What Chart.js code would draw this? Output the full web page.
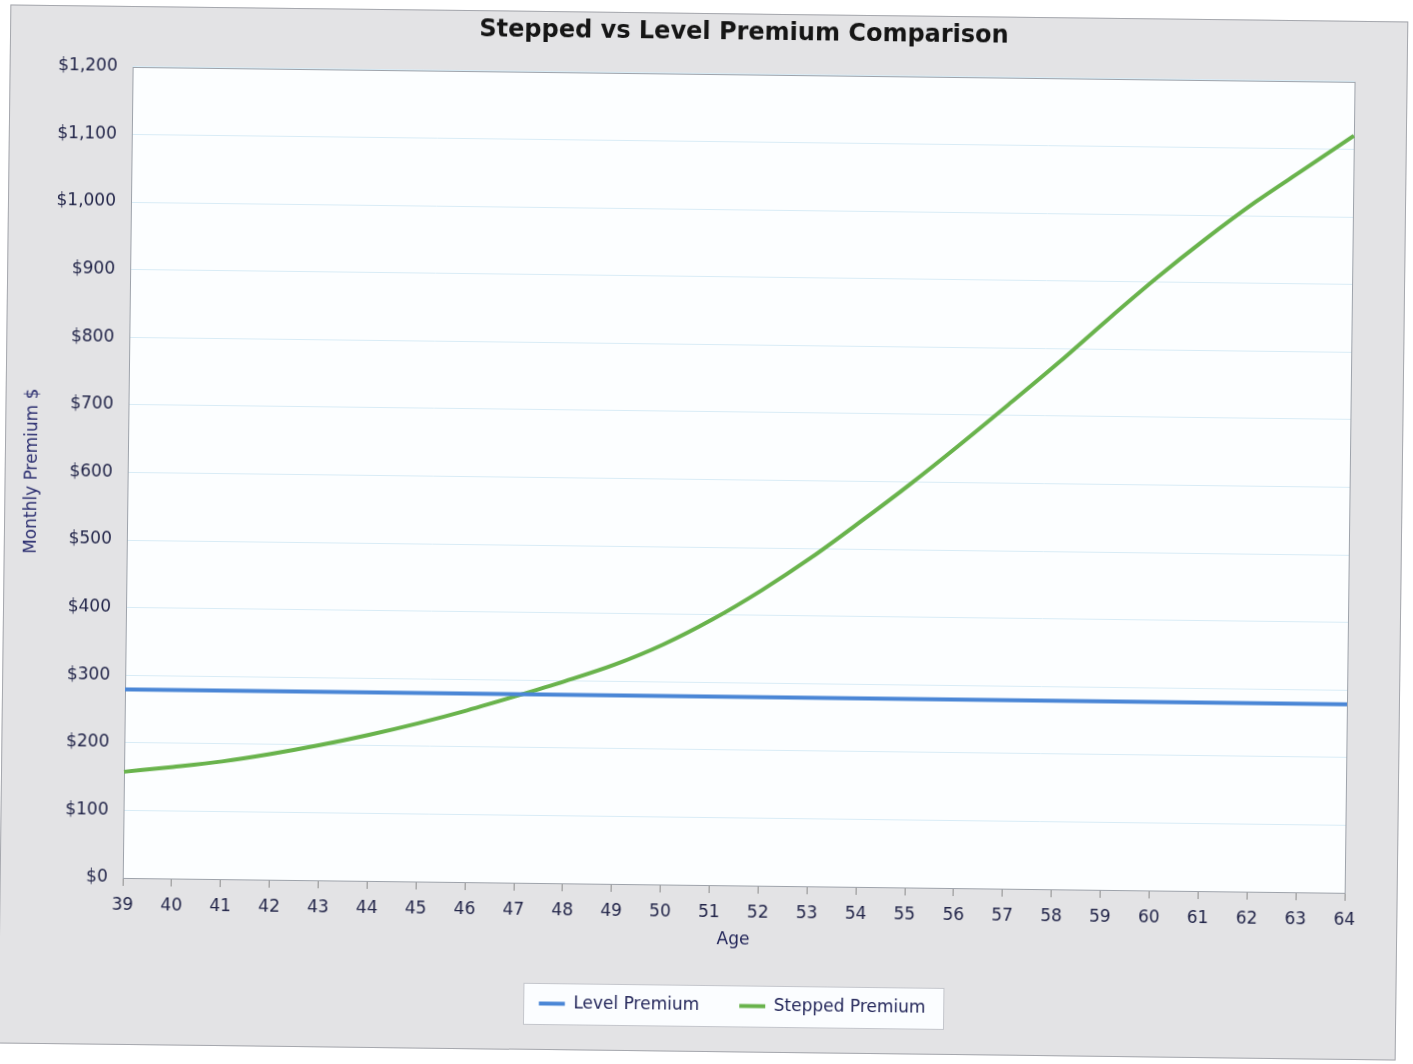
<!DOCTYPE html>
<html>
<head>
<meta charset="utf-8">
<script src="https://cdn.jsdelivr.net/npm/chart.js@4/dist/chart.umd.min.js"></script>
<style>
html,body{margin:0;padding:0;background:#ffffff;width:1413px;height:1064px;overflow:hidden}
#wrap{position:absolute;left:0;top:0;width:1413px;height:1064px;transform:rotate(0.7deg);transform-origin:706.5px 532px}
#panel{position:absolute;left:4px;top:13px;width:1398px;height:1039px;background:#e3e3e5;border:1px solid #a6a8ae;box-sizing:border-box}
canvas{position:absolute;left:0;top:0}
</style>
</head>
<body>
<div id="wrap"><div id="panel"></div><canvas id="c" width="1413" height="1064"></canvas></div>
<script>
// ---- data ----
const ages = ['39','40','41','42','43','44','45','46','47','48','49','50','51','52','53','54','55','56','57','58','59','60','61','62','63','64'];
const levelPremium = [279,279,279,279,279,279,279,279,279,279,279,279,279,279,279,279,279,279,279,279,279,279,279,279,279,279];
const steppedPremium = [157,165,174,186,200,216,234,254,276,299,324,355,393,437,486,540,596,655,716,778,843,906,965,1020,1070,1120];
const yTickValues = [0,100,200,300,400,500,600,700,800,900,1000,1100,1200];
const titleText = 'Stepped vs Level Premium Comparison';
const yTitle = 'Monthly Premium $';
const xTitle = 'Age';
const seriesNames = ['Level Premium','Stepped Premium'];

const FONT = "'DejaVu Sans', Verdana, sans-serif";

const plotFrame = {
  id: 'plotFrame',
  beforeDraw(chart) {
    const {ctx, chartArea: a} = chart;
    ctx.save();
    ctx.fillStyle = '#fcfeff';
    ctx.fillRect(a.left, a.top, a.right - a.left, a.bottom - a.top);
    // legend box
    const hb = chart.legend && chart.legend.legendHitBoxes;
    if (hb && hb.length) {
      let l = Infinity, r = -Infinity, t = Infinity, b = -Infinity;
      hb.forEach(h => { l = Math.min(l, h.left); r = Math.max(r, h.left + h.width); t = Math.min(t, h.top); b = Math.max(b, h.top + h.height); });
      const x0 = Math.round(l - 16) + 0.5, x1 = Math.round(r + 18) + 0.5;
      const y0 = Math.round(t - 12) + 0.5, y1 = Math.round(b + 12) + 0.5;
      ctx.fillStyle = '#fbfdff';
      ctx.fillRect(x0, y0, x1 - x0, y1 - y0);
      ctx.strokeStyle = '#c4c6cc';
      ctx.lineWidth = 1;
      ctx.strokeRect(x0, y0, x1 - x0, y1 - y0);
    }
    ctx.restore();
  },
  beforeDatasetsDraw(chart) {
    const {ctx, chartArea: a} = chart;
    ctx.save();
    ctx.strokeStyle = '#9ea3ab';
    ctx.lineWidth = 1;
    ctx.strokeRect(Math.round(a.left) + 0.5, Math.round(a.top) + 0.5, Math.round(a.right - a.left), Math.round(a.bottom - a.top));
    ctx.restore();
  }
};

new Chart(document.getElementById('c'), {
  type: 'line',
  data: {
    labels: ages,
    datasets: [
      { label: seriesNames[0], data: levelPremium, borderColor: '#4a86d6', backgroundColor: '#4a86d6', borderWidth: 4, pointRadius: 0, tension: 0 },
      { label: seriesNames[1], data: steppedPremium, borderColor: '#69b34c', backgroundColor: '#69b34c', borderWidth: 4, pointRadius: 0, cubicInterpolationMode: 'monotone' }
    ]
  },
  options: {
    responsive: false,
    animation: false,
    layout: { padding: { left: 12, right: 64, top: 10, bottom: 40 } },
    plugins: {
      title: {
        display: true, text: titleText, fullSize: false, color: '#151515',
        font: { family: FONT, size: 24, weight: 'bold', lineHeight: 1.2 },
        padding: { top: 8, bottom: 27 }
      },
      legend: {
        position: 'bottom', fullSize: false,
        labels: {
          usePointStyle: true, pointStyle: 'line', pointStyleWidth: 26,
          padding: 40, color: '#23265a',
          font: { family: FONT, size: 17 }
        }
      },
      tooltip: { enabled: false }
    },
    scales: {
      x: {
        type: 'category', offset: false,
        grid: { display: true, drawOnChartArea: false, drawTicks: true, tickLength: 8, color: '#8c8c8c' },
        border: { display: false },
        ticks: { autoSkip: false, maxRotation: 0, minRotation: 0, padding: 9, color: '#23264a', font: { family: FONT, size: 17 } },
        title: { display: true, text: xTitle, color: '#23265a', font: { family: FONT, size: 17, lineHeight: 1.2 }, padding: { top: 0, bottom: 7 } },
        afterFit(s) { s.height = 72; }
      },
      y: {
        min: 0, max: 1200,
        afterBuildTicks(s) { s.ticks = yTickValues.map(v => ({ value: v })); },
        grid: { color: '#d9ecf6', drawTicks: false, lineWidth: 1 },
        border: { display: false },
        ticks: { padding: 15, color: '#23264a', font: { family: FONT, size: 17 },
          callback: v => '$' + Number(v).toLocaleString('en-US') },
        title: { display: true, text: yTitle, color: '#2b2e70', font: { family: FONT, size: 17, lineHeight: 1.2 }, padding: { top: 9, bottom: 0 } },
        afterFit(s) { s.width = 115; }
      }
    }
  },
  plugins: [plotFrame]
});
</script>
</body>
</html>
